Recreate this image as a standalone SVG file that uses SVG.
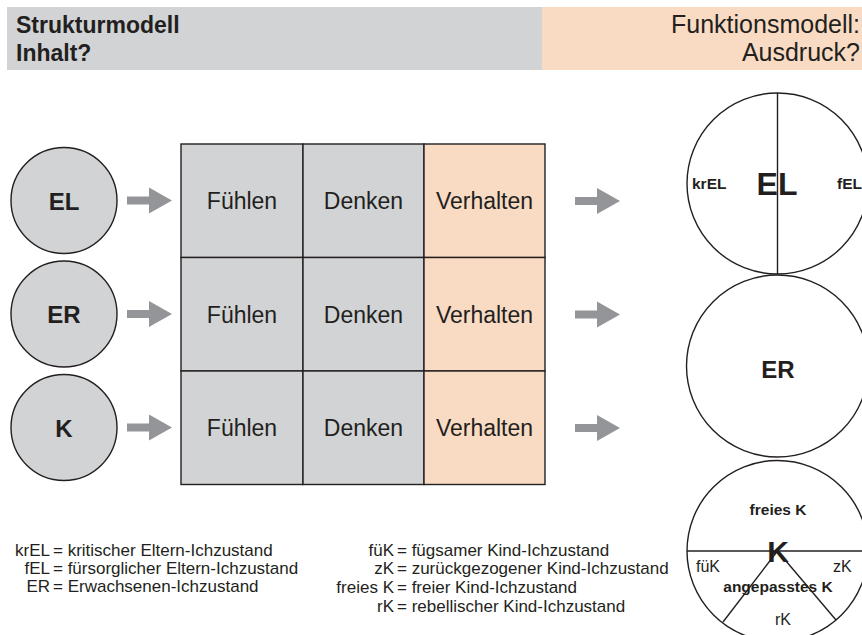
<svg xmlns="http://www.w3.org/2000/svg" width="862" height="635" viewBox="0 0 862 635">
<style>
text{font-family:"Liberation Sans",Arial,sans-serif;fill:#231f20}
.b{font-weight:bold}
.gray{fill:#d1d3d4}
.peach{fill:#f9dbc4}
.ln{stroke:#231f20;stroke-width:1.4;fill:none}
.cell{stroke:#231f20;stroke-width:1.4}
.cellt{font-size:23px;text-anchor:middle}
.lc{font-size:24px;font-weight:bold;text-anchor:middle}
.leg{font-size:17px}
.end{text-anchor:end}
.mid{text-anchor:middle}
.arrow{fill:#939598}
</style>
<defs>
<path id="arr" d="M0,-4 H22 V-13 L45,0 L22,13 V4 H0 Z"/>
</defs>

<g id="header">
<rect x="7" y="7" width="535" height="63" class="gray"/>
<rect x="542" y="7" width="320" height="63" class="peach"/>
<text x="16" y="33" class="b" font-size="23">Strukturmodell</text>
<text x="16" y="61" class="b" font-size="23">Inhalt?</text>
<text x="860" y="33" class="end" font-size="25">Funktionsmodell:</text>
<text x="860" y="61" class="end" font-size="25">Ausdruck?</text>
</g>

<g id="node-EL">
<circle cx="64" cy="200.5" r="53" class="gray cell"/>
<text x="64" y="210" class="lc">EL</text>
</g>
<g id="node-ER">
<circle cx="64" cy="314" r="53" class="gray cell"/>
<text x="64" y="323" class="lc">ER</text>
</g>
<g id="node-K">
<circle cx="64" cy="427.5" r="53" class="gray cell"/>
<text x="64" y="437" class="lc">K</text>
</g>

<g id="grid">
<rect x="181" y="144" width="122" height="113.5" class="gray cell"/>
<rect x="303" y="144" width="121" height="113.5" class="gray cell"/>
<rect x="424" y="144" width="121" height="113.5" class="peach cell"/>
<rect x="181" y="257.5" width="122" height="113.5" class="gray cell"/>
<rect x="303" y="257.5" width="121" height="113.5" class="gray cell"/>
<rect x="424" y="257.5" width="121" height="113.5" class="peach cell"/>
<rect x="181" y="371" width="122" height="113.5" class="gray cell"/>
<rect x="303" y="371" width="121" height="113.5" class="gray cell"/>
<rect x="424" y="371" width="121" height="113.5" class="peach cell"/>
<text x="242" y="209" class="cellt">Fühlen</text>
<text x="363.5" y="209" class="cellt">Denken</text>
<text x="484.5" y="209" class="cellt">Verhalten</text>
<text x="242" y="323" class="cellt">Fühlen</text>
<text x="363.5" y="323" class="cellt">Denken</text>
<text x="484.5" y="323" class="cellt">Verhalten</text>
<text x="242" y="436" class="cellt">Fühlen</text>
<text x="363.5" y="436" class="cellt">Denken</text>
<text x="484.5" y="436" class="cellt">Verhalten</text>
</g>

<g id="connectors" class="arrow">
<use href="#arr" x="127" y="200.5"/>
<use href="#arr" x="127" y="314"/>
<use href="#arr" x="127" y="427.5"/>
<use href="#arr" x="575" y="201"/>
<use href="#arr" x="575" y="314.5"/>
<use href="#arr" x="575" y="428"/>
</g>

<g id="func-EL">
<circle cx="777.5" cy="183.5" r="90.5" fill="#fff" class="ln"/>
<line x1="777.5" y1="93" x2="777.5" y2="274" class="ln"/>
<text x="777" y="195" class="b mid" font-size="32">EL</text>
<text x="692" y="189" class="b" font-size="15.5">krEL</text>
<text x="837" y="189" class="b" font-size="15.5">fEL</text>
</g>

<g id="func-ER">
<circle cx="777.5" cy="366" r="91" fill="#fff" class="ln"/>
<text x="778" y="378" class="b mid" font-size="24">ER</text>
</g>

<g id="func-K">
<circle cx="777.5" cy="551" r="90.5" fill="#fff" class="ln"/>
<line x1="687" y1="551" x2="868" y2="551" class="ln"/>
<line x1="777.5" y1="551" x2="723" y2="622" class="ln"/>
<line x1="777.5" y1="551" x2="836" y2="620" class="ln"/>
<text x="778" y="515" class="b mid" font-size="15.5">freies K</text>
<text x="778" y="562" class="b mid" font-size="30">K</text>
<text x="696" y="572" font-size="16">füK</text>
<text x="833" y="572" font-size="16">zK</text>
<text x="778" y="592" class="b mid" font-size="15.5">angepasstes K</text>
<text x="783" y="625" class="mid" font-size="16">rK</text>
</g>

<g id="legend" class="leg">
<text x="50" y="556" class="end leg">krEL</text>
<text x="53" y="556" class="leg">= kritischer Eltern-Ichzustand</text>
<text x="50" y="574" class="end leg">fEL</text>
<text x="53" y="574" class="leg">= fürsorglicher Eltern-Ichzustand</text>
<text x="50" y="592" class="end leg">ER</text>
<text x="53" y="592" class="leg">= Erwachsenen-Ichzustand</text>
<text x="394" y="556" class="end leg">füK</text>
<text x="397" y="556" class="leg">= fügsamer Kind-Ichzustand</text>
<text x="394" y="574" class="end leg">zK</text>
<text x="397" y="574" class="leg">= zurückgezogener Kind-Ichzustand</text>
<text x="394" y="593" class="end leg">freies K</text>
<text x="397" y="593" class="leg">= freier Kind-Ichzustand</text>
<text x="394" y="612" class="end leg">rK</text>
<text x="397" y="612" class="leg">= rebellischer Kind-Ichzustand</text>
</g>
</svg>
